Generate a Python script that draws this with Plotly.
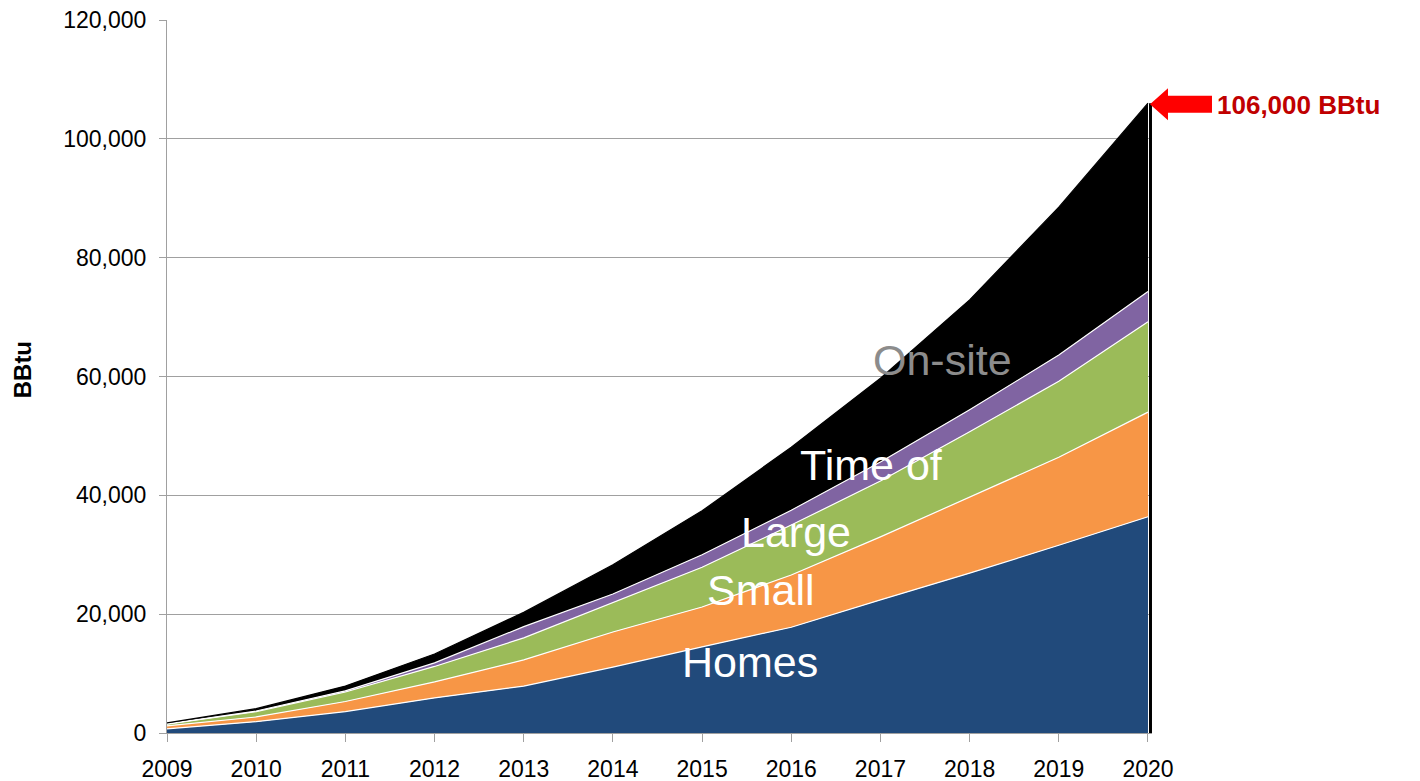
import plotly.graph_objects as go

years = [2009, 2010, 2011, 2012, 2013, 2014, 2015, 2016, 2017, 2018, 2019, 2020]
# cumulative tops, converted to per-layer values
homes_top = [700, 1900, 3600, 5900, 7900, 11100, 14500, 17800, 22400, 26900, 31600, 36400]
small_top = [1200, 2700, 5300, 8600, 12300, 17000, 21200, 26600, 33000, 39700, 46400, 54000]
large_top = [1500, 3600, 6900, 11200, 16000, 21900, 27900, 35000, 42400, 50700, 59200, 69200]
time_top = [1550, 3700, 7100, 11800, 17900, 23400, 30000, 37500, 45600, 54400, 63600, 74300]
total_top = [1700, 4100, 7900, 13300, 20300, 28300, 37400, 48100, 59700, 72900, 88500, 106000]

homes = homes_top
small = [b - a for a, b in zip(homes_top, small_top)]
large = [b - a for a, b in zip(small_top, large_top)]
time_of = [b - a for a, b in zip(large_top, time_top)]
onsite = [b - a for a, b in zip(time_top, total_top)]

series = [
    ("Homes", homes, "#214A7B"),
    ("Small", small, "#F79646"),
    ("Large", large, "#9BBB59"),
    ("Time of", time_of, "#8064A2"),
    ("On-site", onsite, "#000000"),
]

X_RANGE = [2009, 2020.045]
Y_RANGE = [0, 120000]

fig = go.Figure()
for name, vals, col in series:
    fig.add_trace(go.Scatter(
        x=years, y=vals, name=name, stackgroup="one", mode="lines",
        line=dict(color="white" if name != "On-site" else "#000000", width=1.2),
        fillcolor=col, hoverinfo="skip",
    ))

FONT = "Liberation Sans, Arial, sans-serif"

# label annotations
labels = [
    ("Homes", 2015.54, 11950, "white"),
    ("Small", 2015.66, 24070, "white"),
    ("Large", 2016.05, 33830, "white"),
    ("Time of", 2016.9, 45100, "white"),
    ("On-site", 2017.7, 62770, "#8C8C8C"),
]
for txt, x, y, c in labels:
    fig.add_annotation(x=x, y=y, text=txt, showarrow=False,
                       font=dict(family=FONT, size=43, color=c),
                       xanchor="center", yanchor="middle")

# vertical black bar at 2020
fig.add_shape(type="rect", xref="x", yref="y", xsizemode="pixel", xanchor=2020,
              x0=1, x1=4, y0=0, y1=total_top[-1],
              fillcolor="black", line=dict(width=0), layer="above")

# red arrow pointing at total (paper-referenced so it is not clipped)
px_anchor = (years[-1] - X_RANGE[0]) / (X_RANGE[1] - X_RANGE[0])
py_anchor = (total_top[-1] - Y_RANGE[0]) / (Y_RANGE[1] - Y_RANGE[0])
fig.add_shape(type="path", xref="paper", yref="paper", xsizemode="pixel", ysizemode="pixel",
              xanchor=px_anchor, yanchor=py_anchor,
              path="M 2 -1 L 20 15 L 20 7.5 L 64 7.5 L 64 -9.5 L 20 -9.5 L 20 -17 Z",
              fillcolor="#FF0000", line=dict(width=0), layer="above")

fig.add_annotation(xref="paper", yref="paper", x=px_anchor, y=py_anchor,
                   text="<b>106,000 BBtu</b>", showarrow=False, xanchor="left",
                   xshift=67, yshift=-2, yanchor="middle",
                   font=dict(family=FONT, size=26, color="#C00000"))

fig.add_annotation(xref="paper", yref="paper", x=-0.147, y=0.509,
                   text="<b>BBtu</b>", textangle=-90, showarrow=False,
                   xanchor="center", yanchor="middle",
                   font=dict(family=FONT, size=24, color="black"))

# page body has an 8px default margin, so the figure is 8px smaller and shifted
fig.update_layout(
    width=1412, height=773,
    margin=dict(l=159, r=268, t=12, b=48, autoexpand=False),
    plot_bgcolor="white", paper_bgcolor="white",
    showlegend=False,
    font=dict(family=FONT, size=23, color="black"),
    xaxis=dict(range=X_RANGE, tickmode="array", tickvals=years,
               ticktext=[str(y) for y in years], automargin=False,
               ticklabeloverflow="allow", ticklabelstandoff=7,
               showgrid=False, zeroline=False, showline=True, linecolor="#A0A0A0",
               linewidth=1, ticks="outside", ticklen=8, tickcolor="#A0A0A0",
               tickfont=dict(family=FONT, size=23, color="black")),
    yaxis=dict(range=Y_RANGE, tickmode="array", automargin=False,
               ticklabeloverflow="allow", ticklabelstandoff=8,
               tickvals=[0, 20000, 40000, 60000, 80000, 100000, 120000],
               ticktext=["0", "20,000", "40,000", "60,000", "80,000", "100,000", "120,000"],
               showgrid=True, gridcolor="#A0A0A0", gridwidth=1, zeroline=False,
               showline=True, linecolor="#A0A0A0", linewidth=1,
               ticks="outside", ticklen=7, tickcolor="#A0A0A0",
               tickfont=dict(family=FONT, size=23, color="black")),
)

fig.write_html("out.html")
